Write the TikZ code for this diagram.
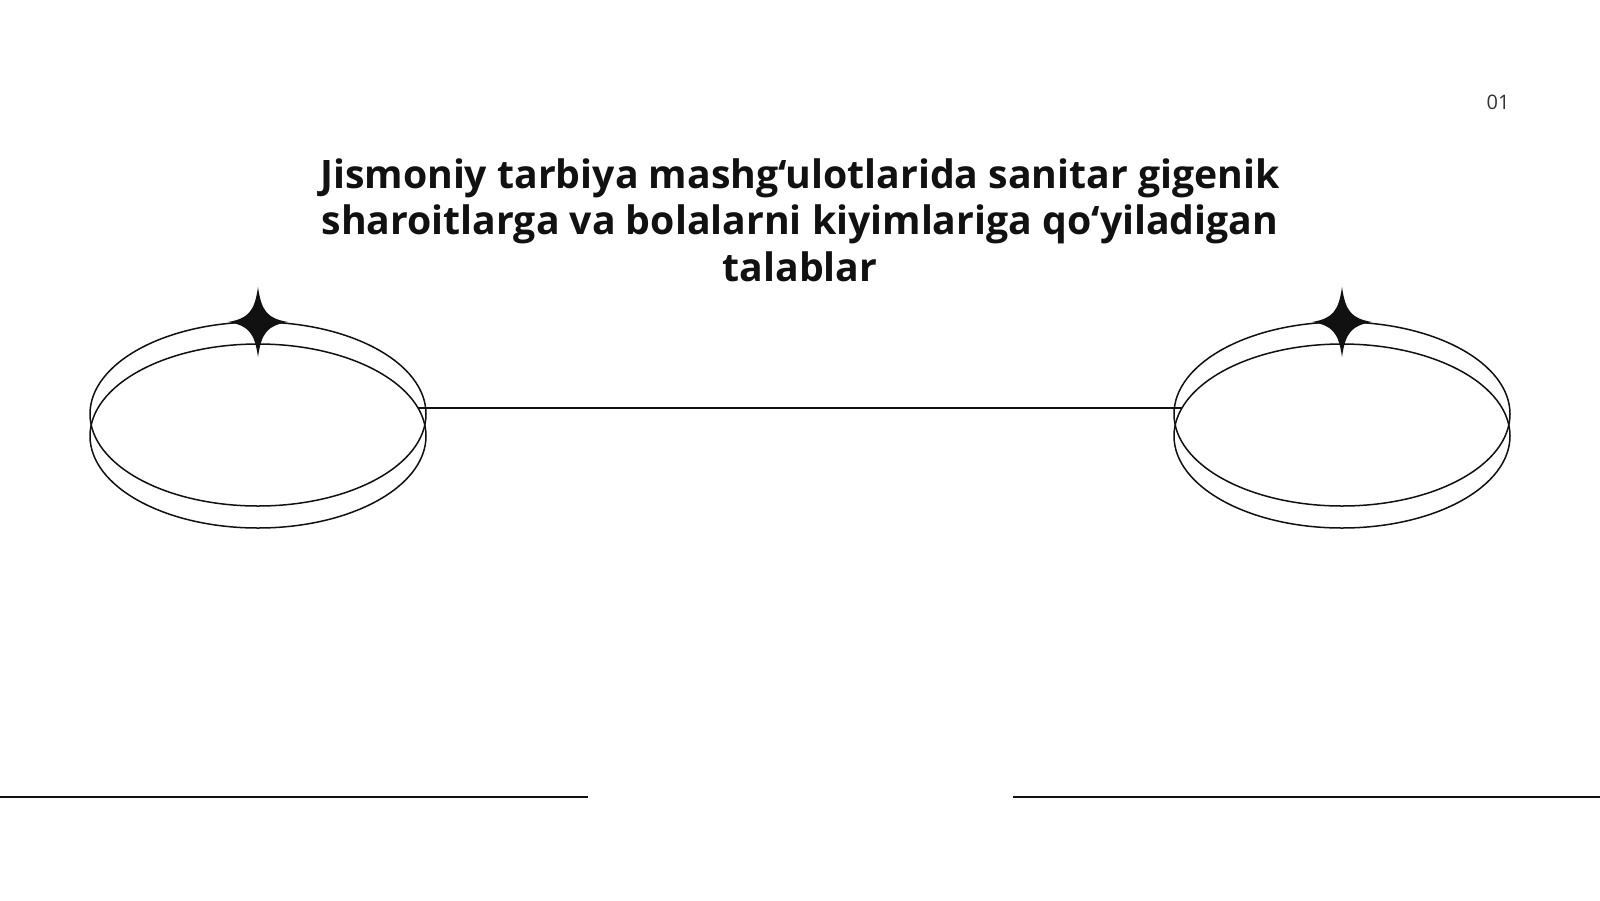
\documentclass[tikz,border=0pt]{standalone}
\usepackage{fontspec}
\setmainfont{Open Sans}
\usetikzlibrary{shapes.geometric,calc}
\definecolor{ink}{HTML}{111111}
\definecolor{pagenum}{HTML}{333333}
\tikzset{
  ring/.style={draw=ink, line width=1.5pt, ellipse, minimum width=336pt, minimum height=184pt, inner sep=0pt, outer sep=0pt},
  rule/.style={draw=ink, line width=1.5pt},
  sparkle/.style={fill=ink, draw=none},
}
\newcommand{\sparklepath}[1]{%
  \fill[sparkle] ($(#1)+(0,-35)$) .. controls ($(#1)+(3.5,-10)$) and ($(#1)+(10,-3.5)$) .. ($(#1)+(30,0)$)
    .. controls ($(#1)+(10,3.5)$) and ($(#1)+(3.5,10)$) .. ($(#1)+(0,35)$)
    .. controls ($(#1)+(-3.5,10)$) and ($(#1)+(-10,3.5)$) .. ($(#1)+(-30,0)$)
    .. controls ($(#1)+(-10,-3.5)$) and ($(#1)+(-3.5,-10)$) .. cycle;}
\begin{document}
\begin{tikzpicture}[x=1pt,y=-1pt]
\useasboundingbox[fill=white] (0,0) rectangle (1600,900);
% title
\node[anchor=base, align=center, font=\fontsize{39.2}{46.5}\selectfont\bfseries, text=ink, inner sep=0pt] (title) at (800,281)
  {Jismoniy tarbiya mashg‘ulotlarida sanitar gigenik\\sharoitlarga va bolalarni kiyimlariga qo‘yiladigan\\talablar};
% page number
\node[font=\fontsize{20}{24}\selectfont, text=pagenum, inner sep=0pt] (pnum) at (1498,102) {01};
% left rings
\node[ring] (Lup) at (258,414) {};
\node[ring] (Llow) at (258,436) {};
% right rings
\node[ring] (Rup) at (1342,414) {};
\node[ring] (Rlow) at (1342,436) {};
% connector
\coordinate (cL) at ($(Llow.center)+(160,-28)$);
\coordinate (cR) at ($(Rlow.center)+(-160,-28)$);
\draw[rule] (cL) -- (cR);
% sparkles
\coordinate (Ls) at (Lup.north);
\coordinate (Rs) at (Rup.north);
\sparklepath{Ls}
\sparklepath{Rs}
% bottom rules
\coordinate (bl1) at (0,797);
\coordinate (bl2) at (588,797);
\coordinate (br1) at (1013,797);
\coordinate (br2) at (1600,797);
\draw[rule] (bl1) -- (bl2);
\draw[rule] (br1) -- (br2);
\end{tikzpicture}
\end{document}
